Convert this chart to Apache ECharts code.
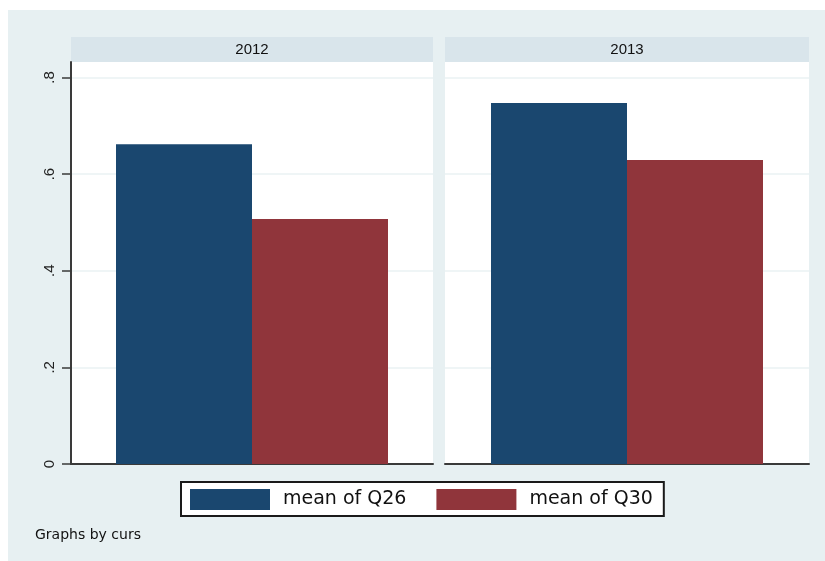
<!DOCTYPE html>
<html>
<head>
<meta charset="utf-8">
<script src="https://cdn.jsdelivr.net/npm/echarts@6/dist/echarts.min.js"></script>
<style>html,body{margin:0;padding:0;background:#fff}#c{width:825px;height:561px}</style>
</head>
<body>
<div id="c"></div>
<script>
const panels = ['2012', '2013'];
const seriesNames = ['mean of Q26', 'mean of Q30'];
const q26 = [0.662, 0.747];
const q30 = [0.507, 0.629];
const yTicks = [0, 0.2, 0.4, 0.6, 0.8];
const yTickLabels = ['0', '.2', '.4', '.6', '.8'];
const footNote = 'Graphs by curs';

const colors = ['#1a476f', '#90353b'];
const gridBox = [
  {left: 71, right: 392, top: 62, bottom: 97},
  {left: 445, right: 16, top: 62, bottom: 97}
];
const yMax = 0.832;

const chart = echarts.init(document.getElementById('c'), null, {renderer: 'canvas'});

const grids = gridBox.map(g => Object.assign({show: true, backgroundColor: '#fff', borderWidth: 0}, g));
const xAxes = panels.map((p, i) => ({
  type: 'category', gridIndex: i, data: [p],
  axisLine: {show: true, lineStyle: {color: '#3a3a3a', width: 2}},
  axisTick: {show: false}, axisLabel: {show: false}, splitLine: {show: false}
}));
const yAxes = panels.map((p, i) => ({
  type: 'value', gridIndex: i, min: 0, max: yMax, interval: 0.2,
  axisLine: {show: i === 0, lineStyle: {color: '#3a3a3a', width: 2}},
  axisTick: {show: i === 0, length: 9, customValues: yTicks, lineStyle: {color: '#3a3a3a', width: 1.5}},
  axisLabel: {show: i === 0, rotate: 90, margin: 14, customValues: yTicks,
    fontFamily: 'Liberation Sans', fontSize: 15, color: '#222',
    formatter: v => { const k = yTicks.findIndex(t => Math.abs(t - v) < 1e-6); return k >= 0 ? yTickLabels[k] : ''; }},
  splitLine: {show: true, lineStyle: {color: '#eaf2f3', width: 1.5}}
}));

const series = [];
panels.forEach((p, i) => {
  series.push({name: seriesNames[0], type: 'bar', xAxisIndex: i, yAxisIndex: i, data: [q26[i]],
    barWidth: 136, barGap: '0%', itemStyle: {color: colors[0]}});
  series.push({name: seriesNames[1], type: 'bar', xAxisIndex: i, yAxisIndex: i, data: [q30[i]],
    barWidth: 136, barGap: '0%', itemStyle: {color: colors[1]}});
});

const graphics = [
  {type: 'rect', z: -10, silent: true, shape: {x: 8, y: 10, width: 817, height: 551}, style: {fill: '#e7f0f2'}}
];
gridBox.forEach((g, i) => {
  const x = g.left, w = 825 - g.right - g.left;
  graphics.push({type: 'rect', silent: true, shape: {x: x, y: 37, width: w, height: 25}, style: {fill: '#d9e5eb'}});
  graphics.push({type: 'text', silent: true, x: x + w / 2, y: 49.5,
    style: {text: panels[i], fill: '#111', font: '15px "Liberation Sans"', textAlign: 'center', textVerticalAlign: 'middle'}});
});
graphics.push({type: 'text', silent: true, x: 35, y: 535,
  style: {text: footNote, fill: '#111', font: '14px "DejaVu Sans"', textAlign: 'left', textVerticalAlign: 'middle'}});

chart.setOption({
  animation: false,
  backgroundColor: '#fff',
  color: colors,
  grid: grids,
  xAxis: xAxes,
  yAxis: yAxes,
  legend: {
    data: seriesNames, left: 181, top: 482, orient: 'horizontal',
    icon: 'rect', itemWidth: 80, itemHeight: 21, itemGap: 30,
    padding: [7, 11, 6, 9], borderColor: '#1a1a1a', borderWidth: 2, backgroundColor: '#fff',
    textStyle: {fontFamily: 'DejaVu Sans', fontSize: 19, color: '#111', padding: [0, 0, 0, 8]},
    selectedMode: false
  },
  graphic: graphics,
  series: series
});
</script>
</body>
</html>
